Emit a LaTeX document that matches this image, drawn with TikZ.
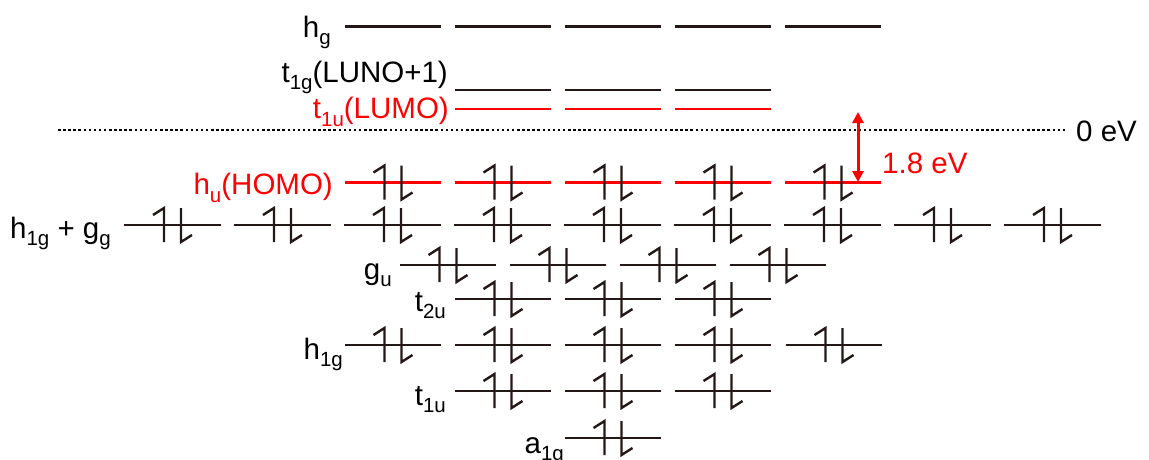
\documentclass[tikz,border=0pt]{standalone}
\usepackage{fontspec}
\setmainfont{Liberation Sans}
\usetikzlibrary{arrows.meta}
\definecolor{lvlcol}{RGB}{35,24,21}
\definecolor{hred}{RGB}{255,0,0}
\newcommand\sbs[1]{\raisebox{-0.27em}{\fontsize{20.5}{20}\selectfont #1}}
\begin{document}
\begin{tikzpicture}[x=1pt,y=-1pt,
  level/.style={line width=2.4pt, draw=lvlcol},
  redlevel/.style={line width=2.4pt, draw=hred},
  spin/.style={line width=2.4pt, draw=lvlcol, line join=miter},
  lab/.style={font=\fontsize{29.5}{35}\selectfont, inner sep=0pt, anchor=base east, text=black},
  redlab/.style={lab, text=hred},
  pair/.pic={
    \draw[spin, pic actions] (-8.5,17) -- (-8.5,-17) -- (-19.5,-10);
    \draw[spin, pic actions] (8.5,-17) -- (8.5,17) -- (19.5,10);
  }]
\useasboundingbox (0,0) rectangle (1149,459);

% empty levels
\foreach \s in {345,455,565,675,785} \draw[level] (\s,26.5) -- ++(96,0);
\foreach \s in {455,565,675} \draw[level] (\s,90) -- ++(96,0);
\foreach \s in {455,565,675} \draw[redlevel] (\s,109) -- ++(96,0);

% zero line
\coordinate (zeroL) at (58,130);
\coordinate (zeroR) at (1066,130);
\draw[line width=2.5pt, draw=black, dash pattern=on 2.5pt off 2.6pt] (zeroL) -- (zeroR);
\node[lab, anchor=base west] (zero) at (1076,141.5) {0 eV};

% HOMO
\foreach \s in {345,455,565,675,785} {
  \draw[redlevel] (\s,182.5) -- ++(96,0);
  \pic[draw=hred] at (\s+48,182.5) {pair};
}
% h1g + gg
\foreach \s in {124,234,344,454,564,674,784,894,1004} {
  \draw[level] (\s,225) -- ++(97,0);
  \pic at (\s+48.5,225) {pair};
}
% gu
\foreach \s in {400,510,620,730} {
  \draw[level] (\s,265) -- ++(96,0);
  \pic at (\s+48,265) {pair};
}
% t2u
\foreach \s in {455,565,675} {
  \draw[level] (\s,299) -- ++(96,0);
  \pic at (\s+48,299) {pair};
}
% h1g
\foreach \s in {345,455,565,675,786} {
  \draw[level] (\s,345) -- ++(96,0);
  \pic at (\s+48,345) {pair};
}
% t1u
\foreach \s in {455,565,675} {
  \draw[level] (\s,391) -- ++(96,0);
  \pic at (\s+48,391) {pair};
}
% a1g
\draw[level] (565,438) -- ++(96,0);
\pic at (613,438) {pair};

% gap arrow
\coordinate (gapTop) at (858,112);
\coordinate (gapBot) at (858,182);
\draw[line width=3pt, draw=hred, {Triangle[length=11pt,width=11pt]}-{Triangle[length=11pt,width=11pt]}] (gapTop) -- (gapBot);
\node[redlab, anchor=base west] (gap) at (882,173) {1.8 eV};

% labels
\node[lab] (hg) at (331,37) {h\sbs{g}};
\node[lab] (t1g) at (448,82) {t\sbs{1g}(LUNO+1)};
\node[redlab] (lumo) at (449,118.5) {t\sbs{1u}(LUMO)};
\node[redlab] (homo) at (333,194.5) {h\sbs{u}(HOMO)};
\node[lab] (hgg) at (111,238) {h\sbs{1g} + g\sbs{g}};
\node[lab] (gu) at (392,279) {g\sbs{u}};
\node[lab] (t2u) at (446,311) {t\sbs{2u}};
\node[lab] (h1g) at (343,359) {h\sbs{1g}};
\node[lab] (t1u) at (446,405) {t\sbs{1u}};
\node[lab] (a1g) at (564,453) {a\sbs{1g}};
\end{tikzpicture}
\end{document}
